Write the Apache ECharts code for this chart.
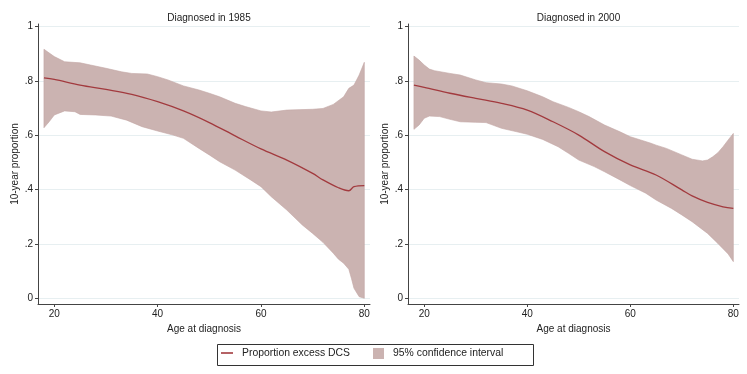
<!DOCTYPE html>
<html><head><meta charset="utf-8">
<script src="https://cdn.jsdelivr.net/npm/echarts@6/dist/echarts.min.js"></script>
<style>html,body{margin:0;padding:0;background:#fff}#c{width:747px;height:374px}</style>
</head><body><div id="c"></div>
<script>
const panelTitles = ["Diagnosed in 1985", "Diagnosed in 2000"];
const xTicks = [20, 40, 60, 80];
const yTicks = [0, 0.2, 0.4, 0.6, 0.8, 1];
const yTickLabels = ["0", ".2", ".4", ".6", ".8", "1"];
const xAxisTitle = "Age at diagnosis";
const yAxisTitle = "10-year proportion";
const lineName = "Proportion excess DCS";
const bandName = "95% confidence interval";

// Diagnosed in 1985
const ageLine1985 = [18,20,25,30,35,40,45,50,55,60,65,70,72,75,77,78,80];
const prop1985 = [0.812,0.806,0.785,0.769,0.751,0.724,0.690,0.647,0.598,0.550,0.509,0.460,0.436,0.407,0.396,0.411,0.415];
const ageUpper1985 = [18,20,22,25,27,30,33,35,38,40,42,45,48,50,52,55,57,60,62,65,70,72,74,76,77,78,79,80];
const upper1985 = [0.917,0.890,0.871,0.867,0.859,0.847,0.834,0.828,0.826,0.816,0.804,0.782,0.767,0.755,0.742,0.718,0.706,0.690,0.686,0.693,0.696,0.699,0.714,0.742,0.773,0.785,0.822,0.869];
const ageLower1985 = [18,19,20,22,24,25,28,31,34,37,40,43,45,48,50,52,55,58,60,62,65,68,70,72,74,75,76,77,77.5,78,79,80];
const lower1985 = [0.628,0.650,0.675,0.690,0.687,0.677,0.675,0.671,0.656,0.632,0.616,0.601,0.589,0.552,0.528,0.503,0.472,0.436,0.411,0.374,0.325,0.270,0.239,0.206,0.166,0.144,0.129,0.107,0.074,0.037,0.006,0.0];

// Diagnosed in 2000
const ageLine2000 = [18,20,25,30,35,40,45,50,55,60,65,70,72,75,78,80];
const prop2000 = [0.785,0.777,0.755,0.736,0.718,0.693,0.650,0.601,0.540,0.491,0.454,0.399,0.377,0.353,0.337,0.331];
const ageUpper2000 = [18,19,20,21,22,25,27,30,32,35,37,40,43,45,48,50,52,55,58,60,62,64,65,67,70,72,74,75,76,77,78,79,80];
const upper2000 = [0.892,0.877,0.859,0.844,0.838,0.828,0.822,0.804,0.794,0.789,0.782,0.764,0.742,0.724,0.703,0.687,0.669,0.638,0.613,0.595,0.583,0.571,0.564,0.552,0.528,0.512,0.506,0.509,0.521,0.536,0.558,0.583,0.607];
const ageLower2000 = [18,19,20,21,23,25,27,30,32,35,38,40,43,46,48,50,53,55,58,60,63,65,68,70,72,75,77,79,80];
const lower2000 = [0.622,0.638,0.663,0.671,0.669,0.659,0.650,0.648,0.647,0.626,0.613,0.604,0.585,0.558,0.534,0.509,0.485,0.466,0.436,0.415,0.387,0.362,0.331,0.307,0.282,0.239,0.202,0.163,0.135];

const lineColor = '#a23a3e';
const bandColor = '#cbb3b1';
const font = '"Liberation Sans", Arial, Helvetica, sans-serif';
const txt = '#222';

const panels = [
  {ageLine: ageLine1985, prop: prop1985, ageU: ageUpper1985, up: upper1985, ageL: ageLower1985, lo: lower1985},
  {ageLine: ageLine2000, prop: prop2000, ageU: ageUpper2000, up: upper2000, ageL: ageLower2000, lo: lower2000}
];
const grids = [
  {left: 38, right: 377, top: 24, bottom: 70},
  {left: 408, right: 8, top: 24, bottom: 70}
];
const titleCenters = [204, 573.5];

function zip(a, b) { return a.map((v, i) => [v, b[i]]); }

const option = {
  animation: false,
  backgroundColor: '#fff',
  title: panelTitles.map((t, i) => ({
    text: t, left: titleCenters[i], top: 8, textAlign: 'center',
    textStyle: {fontFamily: font, fontSize: 10, fontWeight: 'normal', color: txt}
  })),
  grid: grids,
  xAxis: grids.map((g, i) => ({
    type: 'value', gridIndex: i, min: 16.85, max: 81.1,
    name: xAxisTitle, nameLocation: 'middle', nameGap: 15,
    nameTextStyle: {fontFamily: font, fontSize: 10, color: txt},
    axisLine: {show: true, onZero: false, lineStyle: {color: '#444', width: 1}},
    axisTick: {show: true, length: 3, customValues: xTicks, lineStyle: {color: '#444'}},
    axisLabel: {customValues: xTicks, fontFamily: font, fontSize: 10, color: txt, margin: 5},
    splitLine: {show: false}
  })),
  yAxis: grids.map((g, i) => ({
    type: 'value', gridIndex: i, min: -0.021, max: 1.01,
    name: yAxisTitle, nameLocation: 'middle', nameGap: 18, nameRotate: 90,
    nameTextStyle: {fontFamily: font, fontSize: 10, color: txt},
    axisLine: {show: true, onZero: false, lineStyle: {color: '#444', width: 1}},
    axisTick: {show: true, length: 3, customValues: yTicks, lineStyle: {color: '#444'}},
    axisLabel: {customValues: yTicks, fontFamily: font, fontSize: 10, color: txt, margin: 5,
      formatter: v => { const k = yTicks.findIndex(t => Math.abs(t - v) < 1e-6); return k >= 0 ? yTickLabels[k] : ''; }},
    splitLine: {show: true, lineStyle: {color: '#e7eff1', width: 1}}
  })),
  legend: [
    {left: 221, top: 348, padding: 0, itemWidth: 12, itemHeight: 11,
      data: [{name: lineName, icon: 'path://M0,0H12V1.6H0Z'}],
      textStyle: {fontFamily: font, fontSize: 10.4, color: txt, padding: [4, 0, 0, 4]}},
    {left: 373, top: 348, padding: 0, itemWidth: 11, itemHeight: 11,
      data: [{name: bandName, icon: 'rect'}],
      textStyle: {fontFamily: font, fontSize: 10.4, color: txt, padding: [4, 0, 0, 4]}}
  ],
  graphic: [{
    type: 'rect', left: 215, top: 342, shape: {width: 316, height: 21},
    style: {fill: 'none', stroke: '#333', lineWidth: 1}, silent: true
  }],
  series: []
};

panels.forEach((p, i) => {
  option.series.push({
    type: 'custom', name: bandName, xAxisIndex: i, yAxisIndex: i,
    itemStyle: {color: bandColor}, z: 2,
    data: [[p.ageU[0], p.up[0]]],
    renderItem: function (params, api) {
      const pts = [];
      for (let k = 0; k < p.ageU.length; k++) pts.push(api.coord([p.ageU[k], p.up[k]]));
      for (let k = p.ageL.length - 1; k >= 0; k--) pts.push(api.coord([p.ageL[k], p.lo[k]]));
      return {type: 'polygon', shape: {points: pts, smooth: 0}, style: {fill: bandColor, stroke: '#c2a6a4', lineWidth: 0.6}};
    }
  });
  option.series.push({
    type: 'line', name: lineName, xAxisIndex: i, yAxisIndex: i,
    data: zip(p.ageLine, p.prop), showSymbol: false, symbol: 'none', smooth: 0.35, z: 3,
    lineStyle: {color: lineColor, width: 1.3}, itemStyle: {color: lineColor}
  });
});

const chart = echarts.init(document.getElementById('c'), null, {renderer: 'canvas'});
chart.setOption(option);
</script></body></html>
